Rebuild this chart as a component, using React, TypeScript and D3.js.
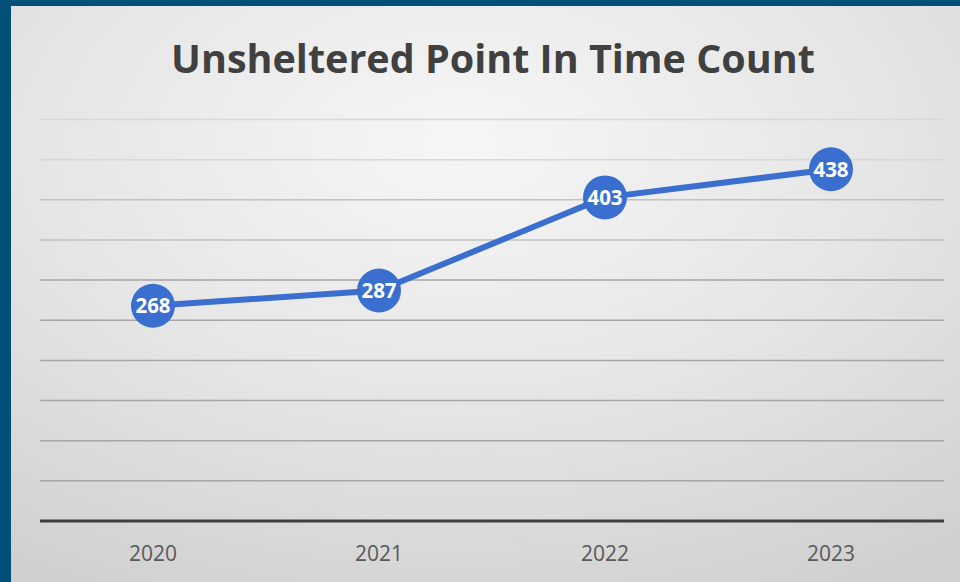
import React from "react";
import * as d3 from "d3";

const years = ["2020", "2021", "2022", "2023"];
const counts = [268, 287, 403, 438];
const yTicks = [50, 100, 150, 200, 250, 300, 350, 400, 450, 500];
const title = "Unsheltered Point In Time Count";

const W = 960;
const H = 582;
const BLUE = "#3a6fd0";

export default function App() {
  const x = d3.scaleBand<string>().domain(years).range([40, 944]);
  const y = d3.scaleLinear().domain([0, 500]).range([521, 119.5]);
  const pts: [number, number][] = counts.map((v, i) => [
    (x(years[i]) as number) + x.bandwidth() / 2,
    y(v),
  ]);
  const line = d3.line<[number, number]>()(pts) || "";

  return (
    <svg
      width={W}
      height={H}
      style={{ position: "absolute", left: 0, top: 0, display: "block" }}
    >
      <defs>
        <radialGradient id="bg" cx="48%" cy="25%" r="85%" fx="48%" fy="25%">
          <stop offset="0%" stopColor="#f6f6f6" />
          <stop offset="50%" stopColor="#e6e6e6" />
          <stop offset="100%" stopColor="#d0d0d0" />
        </radialGradient>
      </defs>
      <rect x={0} y={0} width={W} height={H} fill="url(#bg)" />
      <rect x={0} y={0} width={W} height={6} fill="#005078" />
      <rect x={0} y={0} width={11} height={H} fill="#005078" />

      <text
        x={493}
        y={73}
        textAnchor="middle"
        fontFamily="'Open Sans', sans-serif"
        fontWeight={700}
        fontSize={39.5}
        fill="#404040"
      >
        {title}
      </text>

      {yTicks.map((t) => (
        <line
          key={t}
          x1={40}
          x2={944}
          y1={y(t)}
          y2={y(t)}
          stroke={t >= 450 ? "#d8d8d8" : t >= 350 ? "#c2c2c2" : "#a6a6a6"}
          strokeWidth={1.5}
        />
      ))}
      <line x1={40} x2={944} y1={y(0)} y2={y(0)} stroke="#3f3f3f" strokeWidth={3} />

      {years.map((yr) => (
        <text
          key={yr}
          x={(x(yr) as number) + x.bandwidth() / 2}
          y={561}
          textAnchor="middle"
          fontFamily="'Open Sans', sans-serif"
          fontSize={21}
          fill="#595959"
        >
          {yr}
        </text>
      ))}

      <path d={line} fill="none" stroke={BLUE} strokeWidth={6} strokeLinejoin="round" />
      {pts.map(([px, py], i) => (
        <g key={i}>
          <circle cx={px} cy={py} r={22} fill={BLUE} />
          <text
            x={px}
            y={py + 7.5}
            textAnchor="middle"
            fontFamily="'Open Sans', sans-serif"
            fontWeight={700}
            fontSize={20.5}
            fill="#ffffff"
          >
            {counts[i]}
          </text>
        </g>
      ))}
    </svg>
  );
}
